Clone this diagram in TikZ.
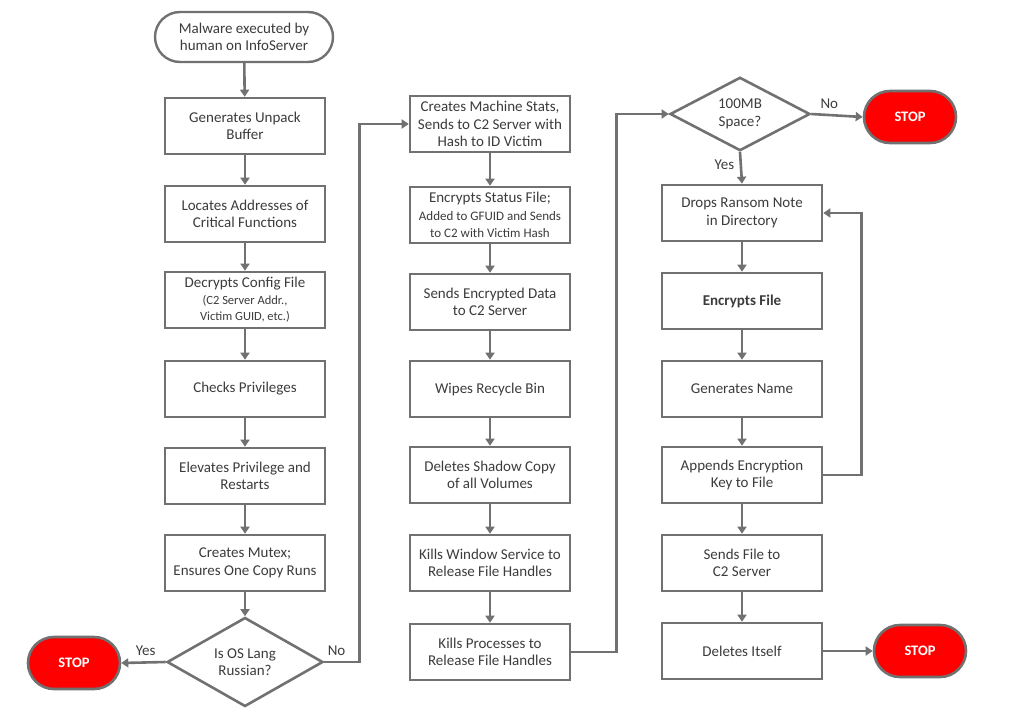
\documentclass[tikz,border=0pt]{standalone}
\usepackage{fontspec}
\setmainfont{Carlito}
\usetikzlibrary{shapes.geometric,arrows.meta}
\definecolor{lnc}{HTML}{717171}
\definecolor{txc}{HTML}{3C3C3C}
\definecolor{stopred}{HTML}{FF0000}
\begin{document}
\begin{tikzpicture}[x=1pt,y=-1pt,
  font=\fontsize{15}{17.5}\selectfont,
  procbox/.style={draw=lnc,line width=2.6pt,fill=white,minimum width=160,minimum height=56,align=center,text=txc,inner sep=1pt},
  termbox/.style={draw=lnc,line width=2.4pt,fill=white,rounded corners=25pt,minimum width=178,minimum height=50,align=center,text=txc},
  stopbox/.style={draw=lnc,line width=2.6pt,fill=stopred,rounded corners=26pt,minimum width=92,minimum height=52,text=white,font=\fontsize{14.5}{16}\selectfont\bfseries},
  decbox/.style={draw=lnc,line width=2.6pt,fill=white,diamond,inner sep=0pt,align=center,text=txc},
  flow/.style={draw=lnc,line width=2.6pt,-{Triangle[width=9pt,length=7pt]}},
  lbl/.style={text=txc,font=\fontsize{15}{17}\selectfont}
]
\useasboundingbox (0,0) rectangle (1024,720);
% column 1
\node[termbox] (start) at (244,37) {Malware executed by\\human on InfoServer};
\node[procbox] (a1) at (245,126) {Generates Unpack\\Buffer};
\node[procbox] (a2) at (245,214) {Locates Addresses of\\Critical Functions};
\node[procbox] (a3) at (245,300) {Decrypts Config File\\[-1pt]{\fontsize{12.5}{14}\selectfont(C2 Server Addr.,}\\[-1pt]{\fontsize{12.5}{14}\selectfont Victim GUID, etc.)}};
\node[procbox] (a4) at (245,389) {Checks Privileges};
\node[procbox] (a5) at (245,476) {Elevates Privilege and\\Restarts};
\node[procbox] (a6) at (245,563) {Creates Mutex;\\Ensures One Copy Runs};
\node[decbox,minimum width=156,minimum height=76] (d1) at (245,662) {Is OS Lang\\Russian?};
\node[stopbox] (s1) at (74,663) {STOP};
% column 2
\node[procbox] (b1) at (490,124) {Creates Machine Stats,\\Sends to C2 Server with\\Hash to ID Victim};
\node[procbox] (b2) at (490,215) {Encrypts Status File;\\{\fontsize{13}{15}\selectfont Added to GFUID and Sends}\\{\fontsize{13}{15}\selectfont to C2 with Victim Hash}};
\node[procbox] (b3) at (490,302) {Sends Encrypted Data\\to C2 Server};
\node[procbox] (b4) at (490,389) {Wipes Recycle Bin};
\node[procbox] (b5) at (490,475) {Deletes Shadow Copy\\of all Volumes};
\node[procbox] (b6) at (490,563) {Kills Window Service to\\Release File Handles};
\node[procbox] (b7) at (490,652) {Kills Processes to\\Release File Handles};
% column 3
\node[decbox,minimum width=140,minimum height=64] (d2) at (740,114) {100MB\\Space?};
\node[stopbox] (s2) at (910,117) {STOP};
\node[procbox] (c1) at (742,213) {Drops Ransom Note\\in Directory};
\node[procbox] (c2) at (742,301) {\bfseries Encrypts File};
\node[procbox] (c3) at (742,389) {Generates Name};
\node[procbox] (c4) at (742,475) {Appends Encryption\\Key to File};
\node[procbox] (c5) at (742,563) {Sends File to\\C2 Server};
\node[procbox] (c6) at (742,651) {Deletes Itself};
\node[stopbox] (s3) at (920,651) {STOP};
% connectors column 1
\draw[flow] (start) -- (a1);
\draw[flow] (a1) -- (a2);
\draw[flow] (a2) -- (a3);
\draw[flow] (a3) -- (a4);
\draw[flow] (a4) -- (a5);
\draw[flow] (a5) -- (a6);
\draw[flow] (a6) -- (d1);
\draw[flow] (d1.west) -- (s1.east) node[lbl,pos=0.45,above=2pt] {Yes};
\draw[flow] (d1.east) -- ++(35,0) node[lbl,pos=0.35,above=2pt] {No} |- (b1.west);
% column 2
\draw[flow] (b1) -- (b2);
\draw[flow] (b2) -- (b3);
\draw[flow] (b3) -- (b4);
\draw[flow] (b4) -- (b5);
\draw[flow] (b5) -- (b6);
\draw[flow] (b6) -- (b7);
\draw[flow] (b7.east) -- ++(45,0) |- (d2.west);
% column 3
\draw[flow] (d2.east) -- (s2.west) node[lbl,pos=0.35,above=2pt] {No};
\draw[flow] (d2.south) -- (c1.north) node[lbl,pos=0.4,left=2pt] {Yes};
\draw[flow] (c1) -- (c2);
\draw[flow] (c2) -- (c3);
\draw[flow] (c3) -- (c4);
\draw[flow] (c4) -- (c5);
\draw[flow] (c5) -- (c6);
\draw[flow] (c6) -- (s3);
\draw[flow] (c4.east) -- ++(38,0) |- (c1.east);
\end{tikzpicture}
\end{document}
